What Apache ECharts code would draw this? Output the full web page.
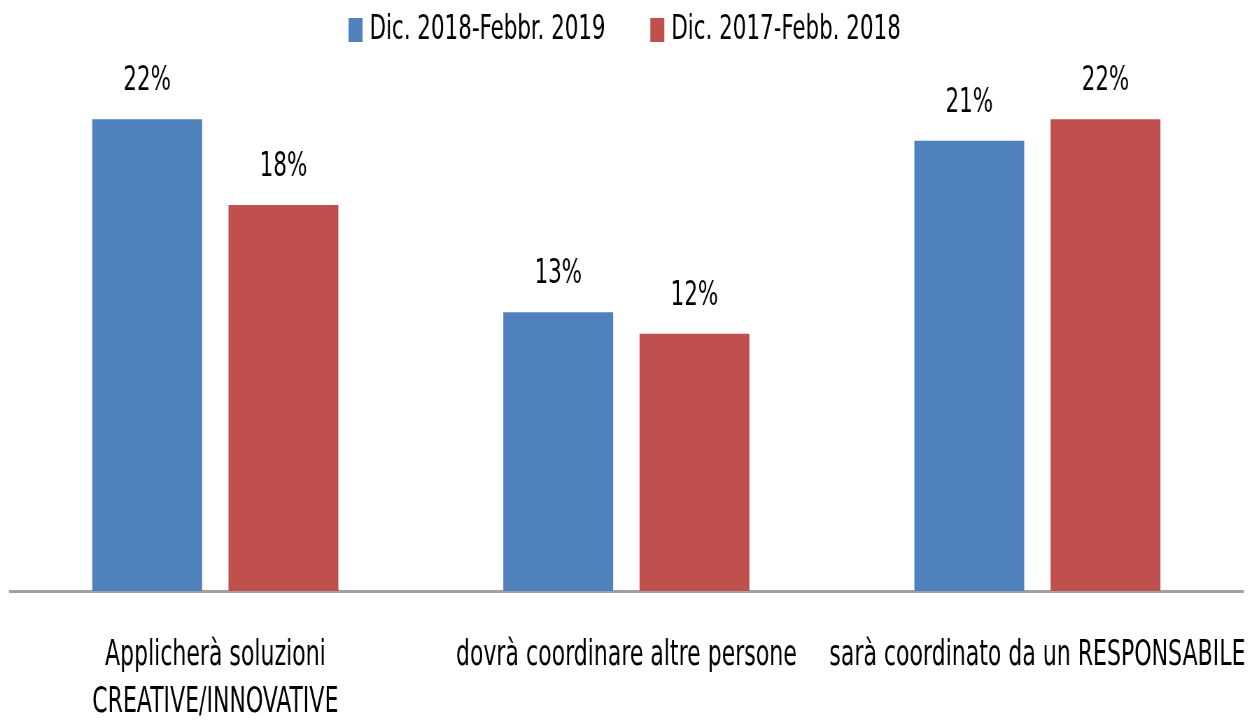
<!DOCTYPE html>
<html>
<head>
<meta charset="utf-8">
<script src="https://cdn.jsdelivr.net/npm/echarts@6/dist/echarts.min.js"></script>
<style>
    html, body { margin: 0; padding: 0; background: #fff; overflow: hidden; }
    /* il font originale e' molto stretto: disegno piu' largo e comprimo in orizzontale */
    #wrap { width: 1252px; height: 724px; overflow: hidden; }
    #chart { width: 1789px; height: 724px; transform: scaleX(0.69983); transform-origin: 0 0; }
</style>
</head>
<body>
<div id="wrap"><div id="chart"></div></div>
<script>
// categorie e valori (%)
var categories = ['Applicherà soluzioni\nCREATIVE/INNOVATIVE', 'dovrà coordinare altre persone', 'sarà coordinato da un RESPONSABILE'];
var seriesNames = ['Dic. 2018-Febbr. 2019', 'Dic. 2017-Febb. 2018'];
var values2019 = [22, 13, 21];
var values2018 = [18, 12, 22];

var fontName = '"Liberation Sans Narrow", "DejaVu Sans Condensed", "Liberation Sans", sans-serif';

var myBar = echarts.init(document.getElementById('chart'));

var labelStyle = {
    show: true,
    position: 'top',
    distance: 21,
    formatter: '{c}%',
    color: '#000',
    fontSize: 34,
    fontFamily: fontName
};

var option = {
    animation: false,
    color: ['#4F81BD', '#C0504D'],
    legend: {
        top: 8,
        left: 493,
        itemWidth: 20,
        itemHeight: 24,
        itemGap: 64,
        icon: 'rect',
        textStyle: {
            color: '#000',
            fontSize: 34,
            fontFamily: fontName,
            padding: [0, 0, 0, 5]
        },
        data: seriesNames
    },
    grid: {
        left: 14,
        right: 13,
        top: 55,
        bottom: 133,
        containLabel: false,
        outerBoundsMode: 'none'
    },
    xAxis: {
        type: 'category',
        data: categories,
        axisTick: { show: false },
        axisLine: {
            show: true,
            lineStyle: { color: '#a0a0a0', width: 3 }
        },
        axisLabel: {
            interval: 0,
            margin: 41,
            color: '#000',
            fontSize: 35,
            lineHeight: 47,
            fontFamily: fontName
        }
    },
    yAxis: {
        type: 'value',
        min: 0,
        max: 25,
        show: false,
        splitLine: { show: false }
    },
    series: [
        {
            name: seriesNames[0],
            type: 'bar',
            barWidth: 157,
            barGap: '24%',
            data: values2019,
            label: labelStyle
        },
        {
            name: seriesNames[1],
            type: 'bar',
            barWidth: 157,
            barGap: '24%',
            data: values2018,
            label: labelStyle
        }
    ]
};

myBar.setOption(option);
</script>
</body>
</html>
